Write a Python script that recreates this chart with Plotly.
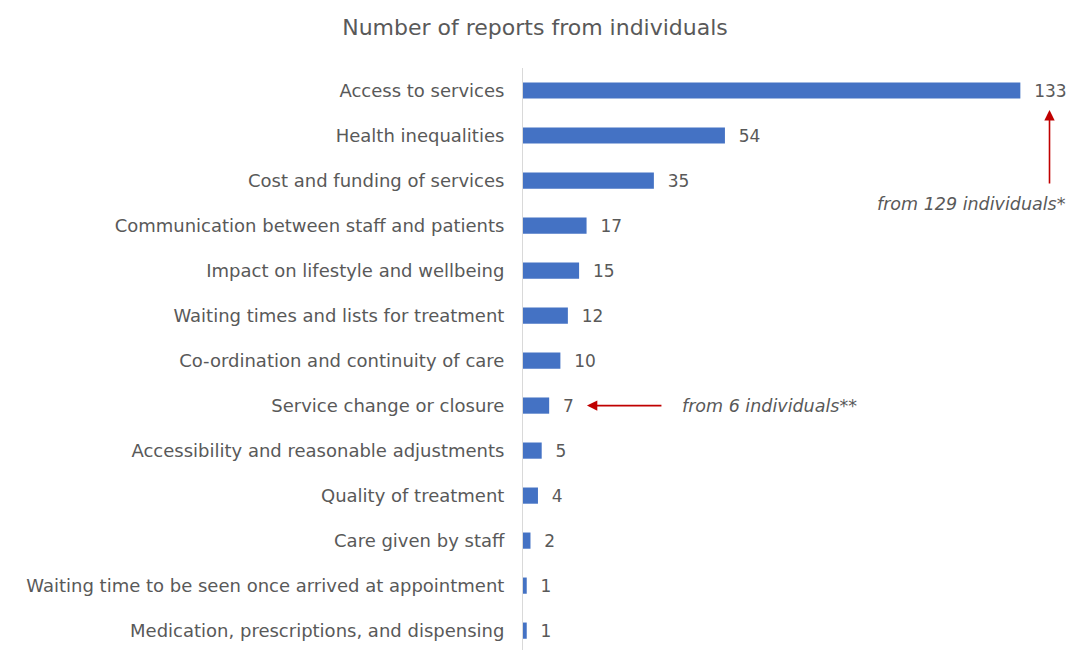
import plotly.graph_objects as go

categories = [
    "Access to services",
    "Health inequalities",
    "Cost and funding of services",
    "Communication between staff and patients",
    "Impact on lifestyle and wellbeing",
    "Waiting times and lists for treatment",
    "Co-ordination and continuity of care",
    "Service change or closure",
    "Accessibility and reasonable adjustments",
    "Quality of treatment",
    "Care given by staff",
    "Waiting time to be seen once arrived at appointment",
    "Medication, prescriptions, and dispensing",
]
values = [133, 54, 35, 17, 15, 12, 10, 7, 5, 4, 2, 1, 1]

FONT = "DejaVu Sans"
GREY = "#595959"
RED = "#C00000"

fig = go.Figure(go.Bar(
    x=values, y=categories, orientation="h",
    marker=dict(color="#4472C4", line=dict(width=0)),
    width=0.36,
    text=values, texttemplate="  %{x}", textposition="outside",
    constraintext="none",
    textfont=dict(family=FONT, size=17, color=GREY),
    cliponaxis=False,
))

fig.update_layout(
    width=1070, height=650,
    margin=dict(l=523, r=16, t=68, b=0),
    paper_bgcolor="white", plot_bgcolor="white",
    showlegend=False,
    title=dict(text="Number of reports from individuals", x=535 / 1070, xref="container",
               xanchor="center", y=1 - 27/650, yanchor="middle",
               font=dict(family=FONT, size=22, color=GREY)),
    xaxis=dict(range=[0, 142], visible=False, fixedrange=True),
    yaxis=dict(range=[12.43, -0.5], showline=True, linecolor="#d9d9d9", linewidth=1,
               ticks="", ticklabelstandoff=14, showgrid=False,
               tickfont=dict(family=FONT, size=18, color=GREY)),
    font=dict(family=FONT, color=GREY),
)

# arrow to 133
fig.add_annotation(x=140.8, xref="x", y=(650 - 110) / 582, yref="paper",
                   ax=0, ay=75, axref="pixel", ayref="pixel",
                   text="", showarrow=True, arrowhead=2, arrowsize=1.3,
                   arrowwidth=1.6, arrowcolor=RED)
fig.add_annotation(x=1, xref="paper", xshift=14, y=(650 - 204) / 582, yref="paper",
                   xanchor="right", yanchor="middle", showarrow=False,
                   text="<i>from 129 individuals*</i>",
                   font=dict(family=FONT, size=17.5, color=GREY))
# arrow to 7
fig.add_annotation(x=17.1, xref="x", y="Service change or closure", yref="y",
                   ax=76, ay=0, axref="pixel", ayref="pixel",
                   text="", showarrow=True, arrowhead=2, arrowsize=1.3,
                   arrowwidth=1.6, arrowcolor=RED)
fig.add_annotation(x=42, xref="x", y="Service change or closure", yref="y",
                   xanchor="left", yanchor="middle", showarrow=False,
                   text="<i>from 6 individuals**</i>",
                   font=dict(family=FONT, size=17.5, color=GREY))

fig.write_html("out.html")
